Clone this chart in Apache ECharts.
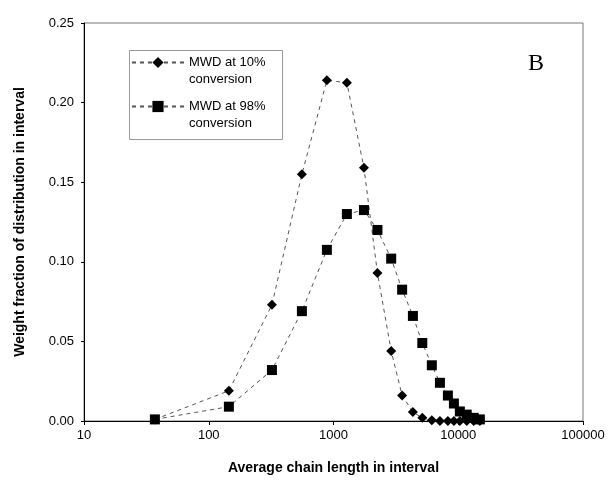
<!DOCTYPE html>
<html>
<head>
<meta charset="utf-8">
<script src="https://cdn.jsdelivr.net/npm/echarts@6/dist/echarts.min.js"></script>
<style>
  html, body { margin: 0; padding: 0; background: #fff; }
  #chart { width: 610px; height: 480px; }
</style>
</head>
<body>
<div id="chart"></div>
<script>
// average chain length of each interval (shared by both curves)
const chainLength = [37, 145, 321, 558, 885, 1280, 1754, 2250, 2900, 3550, 4330, 5150, 6140, 7130, 8260, 9230, 10300, 11700, 13300, 14900]
// weight fraction, 10% conversion
const mwd10 = [0.001, 0.019, 0.073, 0.155, 0.214, 0.2125, 0.159, 0.093, 0.044, 0.016, 0.0056, 0.002, 0.0005, 0, 0, 0, 0, 0, 0, 0]
// weight fraction, 98% conversion
const mwd98 = [0.001, 0.009, 0.032, 0.069, 0.1075, 0.13, 0.1325, 0.12, 0.102, 0.0825, 0.066, 0.049, 0.035, 0.024, 0.016, 0.011, 0.006, 0.004, 0.002, 0.001]
const seriesNames = ["MWD at 10%\nconversion", "MWD at 98%\nconversion"]

const font = "Liberation Sans, Arial, sans-serif"
const pairs = (ys) => chainLength.map((x, i) => [x, ys[i]])

const chart = echarts.init(document.getElementById("chart"))

const lineStyle = { color: "#555", width: 1, type: [4, 4] }

chart.setOption({
    animation: false,
    textStyle: { fontFamily: font },
    grid: {
        left: 84, right: 27, top: 23, bottom: 57,
        show: true, borderColor: "#777", borderWidth: 1
    },
    legend: {
        left: 131, top: 37,
        orient: "vertical",
        padding: 0,
        itemWidth: 52,
        itemHeight: 14,
        itemGap: -7,
        data: seriesNames,
        // blank first line so the symbol sits level with the first text line
        formatter: (name) => " \n" + name,
        textStyle: { fontFamily: font, fontSize: 13, color: "#000", lineHeight: 17 }
    },
    graphic: [
        {
            type: "rect",
            left: 127, top: 48,
            shape: { width: 153, height: 89 },
            style: { fill: "none", stroke: "#999", lineWidth: 1 },
            silent: true
        },
        {
            type: "text",
            left: 528, top: 52,
            style: { text: "B", font: "24px 'Liberation Serif', 'DejaVu Serif', serif", fill: "#000" }
        }
    ],
    xAxis: {
        type: "log",
        logBase: 10,
        min: 10,
        max: 100000,
        name: "Average chain length in interval",
        nameLocation: "middle",
        nameGap: 40,
        nameTextStyle: { fontFamily: font, fontSize: 14, fontWeight: "bold", color: "#000" },
        axisLine: { lineStyle: { color: "#000" } },
        axisTick: { show: true, length: 4, lineStyle: { color: "#000" } },
        minorTick: { show: false },
        splitLine: { show: false },
        axisLabel: {
            fontFamily: font, fontSize: 13, color: "#000", margin: 8,
            formatter: (v) => String(Math.round(v))
        }
    },
    yAxis: {
        type: "value",
        min: 0,
        max: 0.25,
        interval: 0.05,
        name: "Weight fraction of distribution in interval",
        nameLocation: "middle",
        nameRotate: 90,
        nameGap: 57,
        nameTextStyle: { fontFamily: font, fontSize: 14, fontWeight: "bold", color: "#000" },
        axisLine: { show: true, lineStyle: { color: "#000" } },
        axisTick: { show: true, length: 3, lineStyle: { color: "#000" } },
        splitLine: { show: false },
        axisLabel: {
            fontFamily: font, fontSize: 13, color: "#000", margin: 10,
            formatter: (v) => v.toFixed(2)
        }
    },
    series: [
        {
            name: seriesNames[0],
            type: "line",
            data: pairs(mwd10),
            symbol: "diamond",
            symbolSize: 10,
            itemStyle: { color: "#000" },
            lineStyle: lineStyle
        },
        {
            name: seriesNames[1],
            type: "line",
            data: pairs(mwd98),
            symbol: "rect",
            symbolSize: 10,
            itemStyle: { color: "#000" },
            lineStyle: lineStyle
        }
    ]
})
</script>
</body>
</html>
